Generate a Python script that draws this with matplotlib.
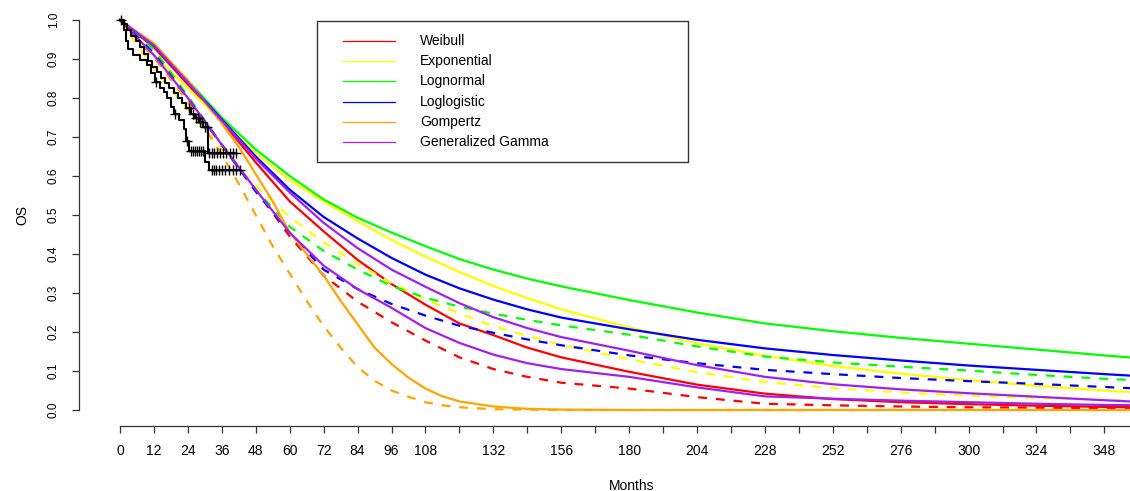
import matplotlib
matplotlib.use("Agg")
import matplotlib.pyplot as plt
from matplotlib.lines import Line2D
from matplotlib.patches import Rectangle

plt.rcParams['font.family'] = ['Liberation Sans', 'DejaVu Sans']

months = [0, 12, 24, 36, 48, 60, 72, 84, 96, 108, 120, 132, 144, 156,
          180, 204, 228, 252, 276, 300, 324, 348, 360]
# Gompertz curves bend sharply, so they were read on a finer grid
gomp_months = [0, 12, 24, 36, 42, 48, 54, 60, 66, 72, 78, 84, 90, 96, 102, 108,
               114, 120, 132, 144, 156, 180, 360]

# solid curves (first fit)
weib_a = [1.00, 0.93, 0.835, 0.74, 0.635, 0.535, 0.458, 0.385, 0.323, 0.27, 0.222, 0.192,
          0.16, 0.135, 0.098, 0.065, 0.042, 0.028, 0.02, 0.015, 0.011, 0.008, 0.007]
exp_a = [1.00, 0.91, 0.825, 0.74, 0.658, 0.59, 0.535, 0.484, 0.436, 0.393, 0.354, 0.318,
         0.287, 0.258, 0.212, 0.171, 0.139, 0.113, 0.093, 0.077, 0.062, 0.05, 0.045]
lnorm_a = [1.00, 0.935, 0.845, 0.75, 0.668, 0.60, 0.54, 0.493, 0.455, 0.42, 0.387, 0.36,
           0.337, 0.317, 0.282, 0.25, 0.222, 0.202, 0.185, 0.17, 0.155, 0.14, 0.133]
llogis_a = [1.00, 0.935, 0.84, 0.745, 0.65, 0.565, 0.495, 0.44, 0.39, 0.347, 0.312, 0.283,
            0.258, 0.237, 0.207, 0.18, 0.158, 0.141, 0.127, 0.114, 0.103, 0.092, 0.087]
gomp_a = [1.00, 0.94, 0.845, 0.735, 0.675, 0.605, 0.535, 0.455, 0.40, 0.345, 0.28, 0.22,
          0.16, 0.118, 0.083, 0.055, 0.035, 0.022, 0.009, 0.003, 0.001, 0.0, 0.0]
ggamma_a = [1.00, 0.935, 0.84, 0.742, 0.645, 0.558, 0.48, 0.415, 0.36, 0.316, 0.274, 0.238,
            0.21, 0.187, 0.152, 0.115, 0.085, 0.066, 0.053, 0.043, 0.034, 0.025, 0.021]

# second fit (dashed, except the generalized gamma which is drawn solid)
weib_b = [1.00, 0.905, 0.795, 0.68, 0.565, 0.445, 0.345, 0.278, 0.225, 0.178, 0.135, 0.105,
          0.085, 0.07, 0.055, 0.033, 0.016, 0.012, 0.009, 0.007, 0.006, 0.005, 0.005]
exp_b = [1.00, 0.875, 0.77, 0.67, 0.575, 0.495, 0.43, 0.375, 0.325, 0.283, 0.248, 0.215,
         0.19, 0.167, 0.13, 0.097, 0.072, 0.056, 0.045, 0.037, 0.031, 0.026, 0.023]
lnorm_b = [1.00, 0.925, 0.805, 0.68, 0.565, 0.47, 0.408, 0.36, 0.318, 0.288, 0.265, 0.247,
           0.231, 0.217, 0.193, 0.163, 0.137, 0.122, 0.111, 0.101, 0.09, 0.08, 0.076]
llogis_b = [1.00, 0.915, 0.80, 0.68, 0.56, 0.455, 0.36, 0.31, 0.272, 0.242, 0.216, 0.198,
            0.181, 0.166, 0.14, 0.12, 0.103, 0.092, 0.082, 0.074, 0.067, 0.059, 0.055]
gomp_b = [1.00, 0.905, 0.79, 0.655, 0.58, 0.50, 0.42, 0.35, 0.28, 0.215, 0.16, 0.11,
          0.075, 0.05, 0.034, 0.02, 0.012, 0.007, 0.002, 0.001, 0.0, 0.0, 0.0]
ggamma_b = [1.00, 0.91, 0.80, 0.68, 0.565, 0.455, 0.37, 0.31, 0.262, 0.21, 0.172, 0.142,
            0.12, 0.105, 0.085, 0.058, 0.035, 0.029, 0.024, 0.02, 0.016, 0.013, 0.012]

# Kaplan-Meier curves
km1_t = [0, 1, 2.5, 4, 5.5, 7, 8.5, 10, 11.5, 13, 14.5, 16, 17.5, 19, 20.5, 22, 23.5,
         25, 26.5, 28, 29.5, 31, 41]
km1_s = [1.0, 0.99, 0.975, 0.96, 0.945, 0.93, 0.912, 0.896, 0.88, 0.866, 0.852, 0.838,
         0.826, 0.812, 0.80, 0.787, 0.774, 0.76, 0.75, 0.738, 0.725, 0.66, 0.66]
km1_ct = [0.3, 24.3, 25.7, 26.8, 27.5, 28.4, 29.0, 29.9, 30.6, 31.6, 32.4, 33.2, 34.2,
          35.3, 36.4, 37.6, 38.8, 40.0, 41.0]
km1_cs = [1.0, 0.774, 0.76, 0.75, 0.75, 0.738, 0.738, 0.725, 0.725, 0.66, 0.66, 0.66, 0.66,
          0.66, 0.66, 0.66, 0.66, 0.66, 0.66]

km2_t = [0, 1.5, 2.2, 3, 4.5, 7, 9.5, 11, 12.5, 14, 15.5, 16.5, 18, 19, 21, 22.5, 23.5,
         24.5, 30, 31.5, 42.4]
km2_s = [1.0, 0.975, 0.945, 0.925, 0.91, 0.897, 0.885, 0.865, 0.842, 0.826, 0.815, 0.80,
         0.778, 0.76, 0.744, 0.72, 0.69, 0.665, 0.635, 0.615, 0.615]
km2_ct = [12.8, 19.5, 23.8, 25.0, 25.8, 26.5, 27.3, 28.0, 28.8, 29.5, 32.5, 33.3, 34.0,
          35.0, 36.0, 37.2, 38.5, 39.8, 41.0, 42.4]
km2_cs = [0.842, 0.76, 0.69, 0.665, 0.665, 0.665, 0.665, 0.665, 0.665, 0.665, 0.615, 0.615,
          0.615, 0.615, 0.615, 0.615, 0.615, 0.615, 0.615, 0.615]

names = ["Weibull", "Exponential", "Lognormal", "Loglogistic", "Gompertz",
         "Generalized Gamma"]
colors = ["#FF0000", "#FFFF00", "#00FF00", "#0000FF", "#FFA500", "#A020F0"]
solid = [weib_a, exp_a, lnorm_a, llogis_a, gomp_a, ggamma_a]
second = [weib_b, exp_b, lnorm_b, llogis_b, gomp_b, ggamma_b]
second_dashed = [True, True, True, True, True, False]

xticks = list(range(0, 361, 12))
xlabels = [str(t) if (t <= 108 or (t - 132) % 24 == 0) and t <= 348 else "" for t in xticks]
yticks = [i / 10 for i in range(11)]
ylabels = [f"{v:.1f}" for v in yticks]

W, H = 1130, 491
fig = plt.figure(figsize=(W / 100, H / 100), dpi=100)
ax = fig.add_axes([79 / W, 1 - 425.6 / H, (1185 - 79) / W, (425.6 - 4.4) / H])

# KM step curves with censoring marks, on top of the fits
for t, s, ct, cs in [(km1_t, km1_s, km1_ct, km1_cs), (km2_t, km2_s, km2_ct, km2_cs)]:
    ax.plot(t, s, drawstyle="steps-post", color="black", lw=1.5, zorder=3)
    ax.plot(ct, cs, ls="none", marker="+", ms=7, mew=1.0, color="black", zorder=3)

for name, c, a, b, d in zip(names, colors, solid, second, second_dashed):
    x = gomp_months if name == "Gompertz" else months
    ax.plot(x, a, color=c, lw=1.6)
    ax.plot(x, b, color=c, lw=1.6, ls=(0, (4, 4)) if d else "-", dash_capstyle="butt")

ax.set_xlim(-14.48, 376.5)
ax.set_ylim(-0.04, 1.04)
for side in ["top", "right"]:
    ax.spines[side].set_visible(False)
ax.spines["left"].set_bounds(0, 1)
ax.spines["bottom"].set_bounds(0, 360)
for side in ["left", "bottom"]:
    ax.spines[side].set_color("#333333")
    ax.spines[side].set_linewidth(0.9)

ax.set_xticks(xticks)
ax.set_xticklabels(xlabels, fontsize=10)
ax.set_yticks(yticks)
ax.set_yticklabels(ylabels, fontsize=8.5, rotation=90, va="center")
ax.tick_params(axis="both", direction="out", length=5, width=0.9, color="#333333")
ax.tick_params(axis="x", pad=8)
ax.tick_params(axis="y", pad=9)

fig.text(632 / W, 1 - 486 / H, "Months", ha="center", va="center", fontsize=10)
fig.text(22 / W, 1 - 215 / H, "OS", rotation=90, ha="center", va="center", fontsize=10)

# legend drawn by hand at the reference pixel positions
fig.add_artist(Rectangle((317 / W, 1 - 162 / H), (688 - 317) / W, (162 - 21) / H,
                         transform=fig.transFigure, fill=False, ec="#333333", lw=1.0))
for i, (n, c) in enumerate(zip(names, colors)):
    fy = 1 - (41 + i * 20.2) / H
    fig.add_artist(Line2D([343 / W, 395 / W], [fy, fy], transform=fig.transFigure,
                          color=c, lw=0.9))
    fig.text(420 / W, fy, n, va="center", ha="left", fontsize=10)

fig.savefig("out.png", dpi=100)
